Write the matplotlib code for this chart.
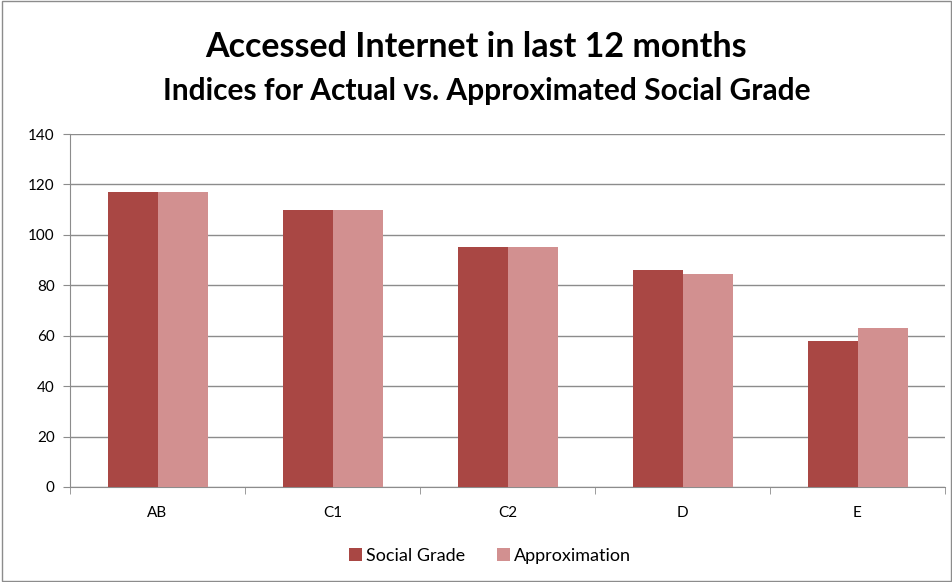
import numpy as np
import matplotlib
matplotlib.use('Agg')
from matplotlib import pyplot as plt
from matplotlib.patches import Rectangle

plt.rcParams['font.family'] = ['Lato', 'DejaVu Sans']

grades = ['AB', 'C1', 'C2', 'D', 'E']
social_grade = [117, 110, 95, 86, 58]
approximation = [117, 110, 95, 84.5, 63]

fig = plt.figure(figsize=(9.53, 5.82), dpi=100)
ax = fig.add_axes([70/953, 1-487/582, 875/953, 353/582])

x = np.arange(len(grades))
w = 1/3.5
ax.bar(x - w/2, social_grade, w, color='#a94744', label='Social Grade', zorder=3)
ax.bar(x + w/2, approximation, w, color='#d29090', label='Approximation', zorder=3)

ax.set_xlim(-0.5, len(grades) - 0.5)
ax.set_ylim(0, 140)
ax.set_yticks(range(0, 141, 20))
ax.yaxis.grid(True, color='#8c8c8c', linewidth=1)
ax.set_axisbelow(True)

ax.set_xticks(x)
ax.set_xticklabels(grades, fontsize=11)
ax.set_xticks(np.arange(-0.5, len(grades)), minor=True)
ax.tick_params(axis='x', which='major', length=0, pad=14)
ax.tick_params(axis='x', which='minor', length=5, color='#8c8c8c')
ax.tick_params(axis='y', length=5, color='#8c8c8c', labelsize=11, pad=6)

for s in ['top', 'right']:
    ax.spines[s].set_visible(False)
for s in ['left', 'bottom']:
    ax.spines[s].set_color('#8c8c8c')

fig.text(0.5, 1-47/582, 'Accessed Internet in last 12 months', ha='center', va='center',
         fontsize=24.5, fontweight='bold')
fig.text(487/953, 1-91/582, 'Indices for Actual vs. Approximated Social Grade', ha='center', va='center',
         fontsize=21.5, fontweight='bold')

fig.legend(loc='center', bbox_to_anchor=(490/953, 1-556/582), ncol=2, frameon=False,
           fontsize=13, handlelength=0.7, handleheight=0.7, handletextpad=0.2, columnspacing=1.8)

fig.patches.append(Rectangle((0.002, 0.002), 0.996, 0.996, transform=fig.transFigure,
                             fill=False, edgecolor='#8c8c8c', linewidth=1))

fig.savefig('out.png', dpi=100)
